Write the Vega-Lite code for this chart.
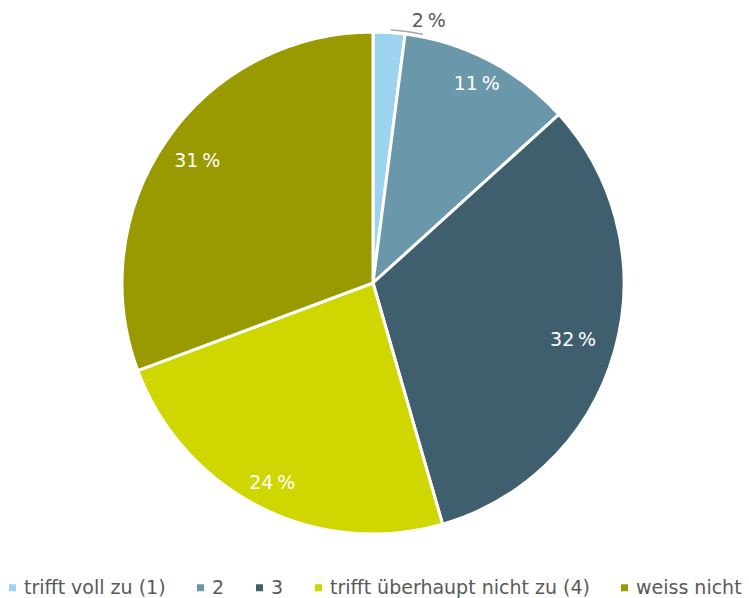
{
  "$schema": "https://vega.github.io/schema/vega-lite/v6.json",
  "width": 746,
  "height": 566,
  "padding": 0,
  "autosize": {"type": "pad"},
  "background": "white",
  "config": {"view": {"stroke": null}, "font": "DejaVu Sans"},
  "data": {
    "values": [
      {"category": "trifft voll zu (1)", "value": 2.04, "label": "2\u2009%", "order": 1},
      {"category": "2", "value": 11.24, "label": "11\u2009%", "order": 2},
      {"category": "3", "value": 32.25, "label": "32\u2009%", "order": 3},
      {"category": "trifft überhaupt nicht zu (4)", "value": 23.8, "label": "24\u2009%", "order": 4},
      {"category": "weiss nicht", "value": 30.67, "label": "31\u2009%", "order": 5}
    ]
  },
  "encoding": {
    "theta": {"field": "value", "type": "quantitative", "stack": true},
    "order": {"field": "order", "type": "quantitative"},
    "color": {
      "field": "category",
      "type": "nominal",
      "sort": ["trifft voll zu (1)", "2", "3", "trifft überhaupt nicht zu (4)", "weiss nicht"],
      "scale": {
        "domain": ["trifft voll zu (1)", "2", "3", "trifft überhaupt nicht zu (4)", "weiss nicht"],
        "range": ["#9cd4ef", "#6b97aa", "#405f6e", "#cfd600", "#989a00"]
      },
      "legend": {
        "title": null,
        "orient": "none",
        "direction": "horizontal",
        "legendX": 3,
        "legendY": 578,
        "symbolType": "square",
        "symbolSize": 49,
        "symbolStrokeWidth": 0,
        "labelFontSize": 19,
        "labelColor": "#595959",
        "labelFont": "DejaVu Sans",
        "labelLimit": 0,
        "columnPadding": 25,
        "symbolOffset": 0,
        "labelOffset": 2
      }
    }
  },
  "layer": [
    {
      "mark": {"type": "arc", "outerRadius": 251, "stroke": "white", "strokeWidth": 3}
    },
    {
      "transform": [{"filter": "datum.order == 1"}],
      "mark": {"type": "arc", "innerRadius": 253, "outerRadius": 254.5, "thetaOffset": 0.07, "theta2Offset": 0.005},
      "encoding": {"color": {"value": "#a6a6a6"}}
    },
    {
      "mark": {"type": "text", "radius": 224, "fontSize": 19, "font": "DejaVu Sans"},
      "encoding": {
        "text": {"field": "label"},
        "color": {"value": "white"},
        "opacity": {"condition": {"test": "datum.order == 2 || datum.order == 4", "value": 1}, "value": 0}
      }
    },
    {
      "mark": {"type": "text", "radius": 214, "fontSize": 19, "font": "DejaVu Sans"},
      "encoding": {
        "text": {"field": "label"},
        "color": {"value": "white"},
        "opacity": {"condition": {"test": "datum.order == 5", "value": 1}, "value": 0}
      }
    },
    {
      "mark": {"type": "text", "radius": 208, "fontSize": 19, "font": "DejaVu Sans"},
      "encoding": {
        "text": {"field": "label"},
        "color": {"value": "white"},
        "opacity": {"condition": {"test": "datum.order == 3", "value": 1}, "value": 0}
      }
    },
    {
      "mark": {"type": "text", "radius": 262, "fontSize": 19, "font": "DejaVu Sans", "dx": 39, "dy": -1},
      "encoding": {
        "text": {"field": "label"},
        "color": {"value": "#595959"},
        "opacity": {"condition": {"test": "datum.order == 1", "value": 1}, "value": 0}
      }
    }
  ]
}
